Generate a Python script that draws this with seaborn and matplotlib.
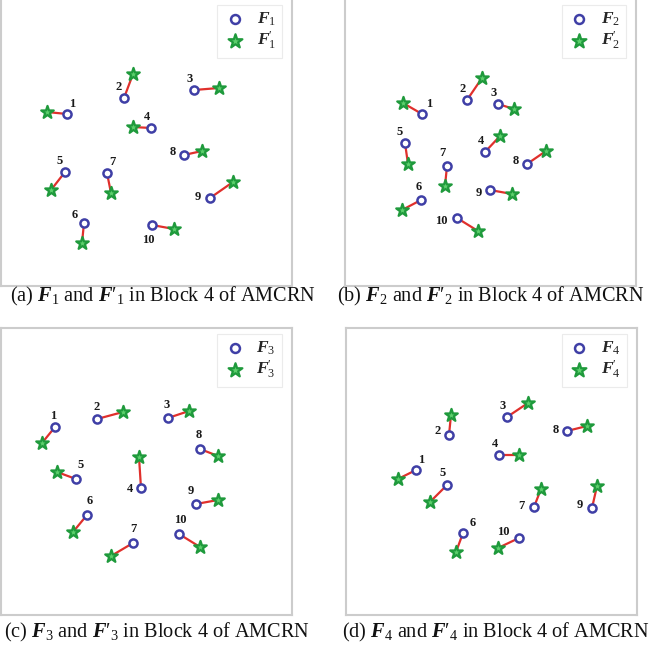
import matplotlib
matplotlib.use("Agg")
import matplotlib.pyplot as plt
import seaborn as sns
import pandas as pd

# point coordinates (panel units, y grows downward) for F and F' in each block
IDS = [1, 2, 3, 4, 5, 6, 7, 8, 9, 10]

F1_X = [66, 123, 193, 150, 64, 83, 106, 183, 209, 151]
F1_Y = [115, 99, 91, 129, 173, 224, 174, 156, 199, 226]
F1P_X = [46, 132, 218, 132, 50, 81, 110, 201, 232, 173]
F1P_Y = [113, 75, 89, 128, 191, 244, 194, 152, 183, 230]

F2_X = [77, 122, 153, 140, 60, 76, 102, 182, 145, 112]
F2_Y = [115, 101, 105, 153, 144, 201, 167, 165, 191, 219]
F2P_X = [58, 137, 169, 155, 63, 57, 100, 201, 167, 133]
F2P_Y = [104, 79, 110, 137, 165, 211, 187, 152, 195, 232]

F3_X = [54, 96, 167, 140, 75, 86, 132, 199, 195, 178]
F3_Y = [99, 91, 90, 160, 151, 187, 215, 121, 176, 206]
F3P_X = [41, 122, 188, 138, 56, 72, 110, 217, 217, 199]
F3P_Y = [115, 84, 83, 129, 144, 204, 228, 128, 172, 219]

F4_X = [70, 103, 161, 153, 101, 117, 188, 221, 246, 173]
F4_Y = [142, 107, 89, 127, 157, 205, 179, 103, 180, 210]
F4P_X = [52, 105, 182, 173, 84, 110, 195, 241, 251, 152]
F4P_Y = [151, 87, 75, 127, 174, 224, 161, 98, 158, 220]

# where each number label sits relative to its circle (points)
LBL_A = [(4, 7), (-4, 8), (-3, 8), (-3, 8), (-4, 8), (-7, 6), (4, 8), (-8, 2), (-9, 1), (-3, -11)]
LBL_B = [(5, 7), (-3, 8), (-3, 8), (-3, 8), (-4, 8), (-2, 9), (-3, 9), (-8, 2), (-8, -2), (-11, -2)]
LBL_C = [(-1, 8), (0, 9), (-1, 9), (-8, -1), (3, 10), (2, 10), (0, 10), (-1, 10), (-4, 9), (1, 10)]
LBL_D = [(4, 7), (-8, 3), (-3, 8), (-3, 8), (-3, 9), (7, 7), (-9, 1), (-8, 1), (-9, 2), (-11, 4)]

CAPTIONS = [
    r"(a) $\mathbfit{F}_1$ and $\mathbfit{F}\prime_1$ in Block 4 of AMCRN",
    r"(b) $\mathbfit{F}_2$ and $\mathbfit{F}\prime_2$ in Block 4 of AMCRN",
    r"(c) $\mathbfit{F}_3$ and $\mathbfit{F}\prime_3$ in Block 4 of AMCRN",
    r"(d) $\mathbfit{F}_4$ and $\mathbfit{F}\prime_4$ in Block 4 of AMCRN",
]

sns.set_theme(style="white")
plt.rcParams["font.family"] = ["Liberation Serif", "DejaVu Serif"]
plt.rcParams["mathtext.fontset"] = "custom"
plt.rcParams["mathtext.rm"] = "Liberation Serif"
plt.rcParams["mathtext.it"] = "Liberation Serif:italic"
plt.rcParams["mathtext.bf"] = "Liberation Serif:bold"
plt.rcParams["mathtext.bfit"] = "Liberation Serif:bold:italic"

CIRCLE_EDGE = "#3f3fa6"
STAR_EDGE = "#1f9a3c"
STAR_FACE = "#5ccf6c"
LINK = "#e0302c"
FRAME = "#cccccc"

W, H = 291, 287
FIG_W, FIG_H = 654, 648

# panel frames in pixels: left, top
PANELS = [(1, -1), (345, -1), (1, 328), (346, 328)]
CAP_POS = [(163, 296), (491, 296), (157, 632), (496, 632)]

fig = plt.figure(figsize=(FIG_W / 100, FIG_H / 100), dpi=100)

blocks = [
    (F1_X, F1_Y, F1P_X, F1P_Y, LBL_A, "1"),
    (F2_X, F2_Y, F2P_X, F2P_Y, LBL_B, "2"),
    (F3_X, F3_Y, F3P_X, F3P_Y, LBL_C, "3"),
    (F4_X, F4_Y, F4P_X, F4P_Y, LBL_D, "4"),
]

for i, (fx, fy, px, py, lbl, k) in enumerate(blocks):
    left, top = PANELS[i]
    ax = fig.add_axes([left / FIG_W, 1 - (top + H) / FIG_H, W / FIG_W, H / FIG_H])
    df = pd.DataFrame({"id": IDS, "fx": fx, "fy": fy, "px": px, "py": py})

    for _, r in df.iterrows():
        ax.plot([r.fx, r.px], [r.fy, r.py], color=LINK, lw=1.6, zorder=1)

    sns.scatterplot(data=df, x="fx", y="fy", ax=ax, marker="o", s=34,
                    facecolor="white", edgecolor=CIRCLE_EDGE, linewidth=1.8,
                    zorder=3, label=rf"$\mathbfit{{F}}_{k}$")
    sns.scatterplot(data=df, x="px", y="py", ax=ax, marker="*", s=90,
                    color=STAR_FACE, edgecolor=STAR_EDGE, linewidth=1.6,
                    zorder=3, label=rf"$\mathbfit{{F}}_{k}^{{\prime}}$")

    for j, (dx, dy) in enumerate(lbl):
        ax.annotate(str(IDS[j]), (fx[j], fy[j]), xytext=(dx, dy),
                    textcoords="offset points", ha="center", va="center",
                    fontsize=9, fontweight="bold", color="#1a1a1a")

    ax.set_xlim(0, W)
    ax.set_ylim(H, 0)
    ax.set_xticks([])
    ax.set_yticks([])
    ax.set_xlabel("")
    ax.set_ylabel("")
    for sp in ax.spines.values():
        sp.set_color(FRAME)
        sp.set_linewidth(1.5)

    leg = ax.legend(loc="upper right", bbox_to_anchor=(0.965, 0.98),
                    fontsize=12.5, frameon=True, handletextpad=0.6,
                    labelspacing=0.1, borderpad=0.35, handlelength=1.3,
                    fancybox=False, borderaxespad=0, markerscale=1.1)
    leg.get_frame().set_edgecolor("#e6e6e6")
    leg.get_frame().set_linewidth(0.8)

    cx, cy = CAP_POS[i]
    fig.text(cx / FIG_W, 1 - cy / FIG_H, CAPTIONS[i], ha="center", va="center",
             fontsize=14.6, color="#111111")

fig.savefig("out.png", dpi=100)
